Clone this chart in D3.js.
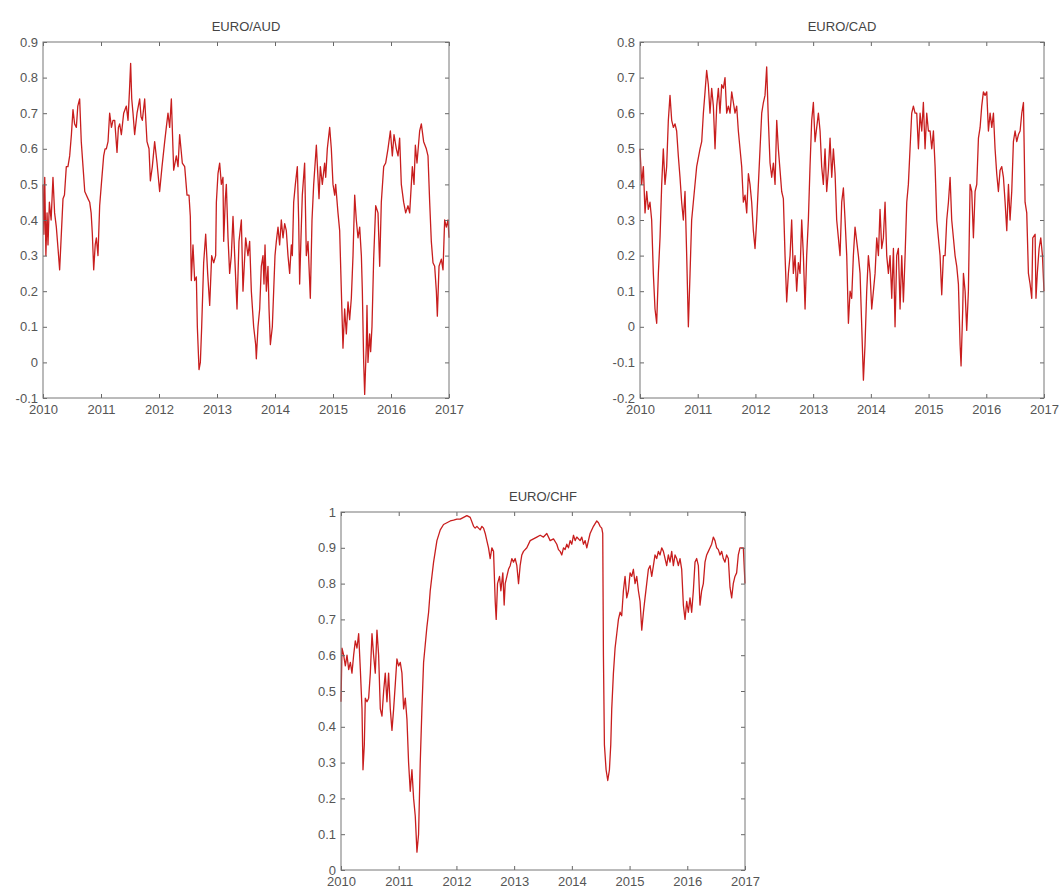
<!DOCTYPE html>
<html>
<head>
<meta charset="utf-8">
<script src="https://cdn.jsdelivr.net/npm/d3@7"></script>
<style>
  body { margin: 0; background: #fff; }
  svg text { font-family: "Liberation Sans", Arial, sans-serif; }
</style>
</head>
<body>
<svg id="chart" width="1059" height="890"></svg>
<script>
// x axis years shared by all panels
var yearTicks = [2010, 2011, 2012, 2013, 2014, 2015, 2016, 2017];

var audTicks = [-0.1, 0, 0.1, 0.2, 0.3, 0.4, 0.5, 0.6, 0.7, 0.8, 0.9];
var cadTicks = [-0.2, -0.1, 0, 0.1, 0.2, 0.3, 0.4, 0.5, 0.6, 0.7, 0.8];
var chfTicks = [0, 0.1, 0.2, 0.3, 0.4, 0.5, 0.6, 0.7, 0.8, 0.9, 1];

// [decimal year, correlation]
var audSeries = [
  [2010.000,0.50],[2010.015,0.36],[2010.030,0.52],[2010.050,0.30],[2010.070,0.42],[2010.086,0.33],
  [2010.110,0.45],[2010.140,0.40],[2010.172,0.52],[2010.200,0.42],[2010.230,0.38],[2010.259,0.32],
  [2010.287,0.26],[2010.310,0.34],[2010.345,0.46],[2010.370,0.47],[2010.402,0.55],[2010.430,0.55],
  [2010.460,0.58],[2010.490,0.64],[2010.517,0.71],[2010.545,0.67],[2010.575,0.66],[2010.600,0.72],
  [2010.632,0.74],[2010.660,0.62],[2010.690,0.55],[2010.720,0.48],[2010.747,0.47],[2010.775,0.46],
  [2010.805,0.45],[2010.830,0.42],[2010.851,0.36],[2010.874,0.26],[2010.900,0.33],[2010.920,0.35],
  [2010.948,0.30],[2010.977,0.44],[2011.006,0.50],[2011.046,0.58],[2011.070,0.60],[2011.092,0.60],
  [2011.121,0.62],[2011.149,0.70],[2011.180,0.66],[2011.207,0.68],[2011.236,0.68],[2011.276,0.59],
  [2011.300,0.66],[2011.322,0.67],[2011.351,0.64],[2011.391,0.70],[2011.437,0.72],[2011.466,0.68],
  [2011.490,0.76],[2011.511,0.84],[2011.530,0.74],[2011.552,0.70],[2011.580,0.64],[2011.621,0.70],
  [2011.667,0.74],[2011.690,0.69],[2011.713,0.68],[2011.753,0.74],[2011.793,0.62],[2011.828,0.60],
  [2011.851,0.51],[2011.885,0.55],[2011.925,0.62],[2011.966,0.56],[2012.011,0.48],[2012.052,0.55],
  [2012.098,0.62],[2012.126,0.66],[2012.155,0.70],[2012.184,0.66],[2012.213,0.74],[2012.253,0.54],
  [2012.299,0.58],[2012.328,0.55],[2012.356,0.64],[2012.402,0.56],[2012.443,0.55],[2012.483,0.47],
  [2012.517,0.47],[2012.540,0.41],[2012.557,0.23],[2012.586,0.33],[2012.615,0.23],[2012.644,0.24],
  [2012.661,0.10],[2012.690,-0.02],[2012.713,0.00],[2012.736,0.10],[2012.770,0.28],[2012.805,0.36],
  [2012.839,0.25],[2012.874,0.16],[2012.908,0.30],[2012.943,0.28],[2012.977,0.30],[2012.989,0.45],
  [2013.017,0.53],[2013.046,0.56],[2013.075,0.50],[2013.103,0.52],[2013.115,0.34],[2013.144,0.46],
  [2013.161,0.50],[2013.190,0.35],[2013.218,0.25],[2013.247,0.30],[2013.276,0.41],[2013.305,0.30],
  [2013.345,0.15],[2013.379,0.34],[2013.420,0.40],[2013.448,0.20],[2013.494,0.35],[2013.534,0.30],
  [2013.563,0.34],[2013.592,0.20],[2013.632,0.10],[2013.667,0.05],[2013.678,0.01],[2013.707,0.10],
  [2013.736,0.15],[2013.764,0.27],[2013.793,0.30],[2013.810,0.22],[2013.828,0.33],[2013.851,0.20],
  [2013.879,0.27],[2013.897,0.15],[2013.920,0.05],[2013.954,0.10],[2013.977,0.20],[2014.000,0.30],
  [2014.023,0.34],[2014.052,0.38],[2014.080,0.33],[2014.109,0.40],[2014.138,0.35],[2014.167,0.39],
  [2014.195,0.37],[2014.224,0.30],[2014.253,0.25],[2014.282,0.33],[2014.299,0.30],[2014.322,0.45],
  [2014.351,0.50],[2014.385,0.55],[2014.408,0.40],[2014.425,0.22],[2014.448,0.35],[2014.471,0.47],
  [2014.511,0.56],[2014.540,0.30],[2014.569,0.34],[2014.609,0.18],[2014.638,0.40],[2014.667,0.50],
  [2014.713,0.61],[2014.759,0.46],[2014.782,0.55],[2014.816,0.50],[2014.856,0.56],[2014.874,0.52],
  [2014.902,0.60],[2014.943,0.66],[2014.971,0.60],[2015.000,0.50],[2015.029,0.47],[2015.046,0.50],
  [2015.086,0.42],[2015.115,0.37],[2015.144,0.20],[2015.172,0.04],[2015.201,0.15],[2015.230,0.08],
  [2015.259,0.17],[2015.287,0.12],[2015.316,0.18],[2015.333,0.25],[2015.345,0.30],[2015.374,0.47],
  [2015.402,0.40],[2015.431,0.35],[2015.460,0.38],[2015.489,0.30],[2015.506,0.20],[2015.529,0.00],
  [2015.546,-0.09],[2015.575,0.05],[2015.586,0.16],[2015.603,0.00],[2015.632,0.08],[2015.649,0.03],
  [2015.672,0.10],[2015.701,0.29],[2015.736,0.44],[2015.776,0.42],[2015.805,0.27],[2015.833,0.45],
  [2015.874,0.55],[2015.908,0.56],[2015.948,0.60],[2015.989,0.65],[2016.023,0.58],[2016.052,0.64],
  [2016.092,0.60],[2016.121,0.58],[2016.149,0.63],[2016.178,0.50],[2016.218,0.45],[2016.253,0.42],
  [2016.293,0.44],[2016.322,0.42],[2016.368,0.55],[2016.397,0.50],[2016.420,0.61],[2016.448,0.56],
  [2016.494,0.65],[2016.523,0.67],[2016.563,0.62],[2016.609,0.60],[2016.638,0.58],[2016.667,0.45],
  [2016.695,0.34],[2016.724,0.28],[2016.753,0.27],[2016.782,0.20],[2016.799,0.13],[2016.828,0.27],
  [2016.868,0.29],[2016.897,0.26],[2016.925,0.40],[2016.954,0.38],[2016.983,0.40],[2017.000,0.35]
];

var cadSeries = [
  [2010.000,0.50],[2010.029,0.40],[2010.058,0.45],[2010.087,0.32],[2010.116,0.38],[2010.144,0.33],
  [2010.173,0.35],[2010.202,0.30],[2010.231,0.15],[2010.260,0.05],[2010.289,0.01],[2010.318,0.15],
  [2010.347,0.25],[2010.376,0.40],[2010.404,0.50],[2010.433,0.40],[2010.462,0.45],[2010.491,0.58],
  [2010.520,0.65],[2010.549,0.58],[2010.578,0.56],[2010.607,0.57],[2010.635,0.55],[2010.664,0.48],
  [2010.693,0.42],[2010.722,0.35],[2010.751,0.30],[2010.780,0.38],[2010.809,0.20],[2010.838,0.00],
  [2010.867,0.15],[2010.895,0.30],[2010.924,0.35],[2010.982,0.45],[2011.040,0.50],[2011.069,0.52],
  [2011.098,0.60],[2011.127,0.66],[2011.155,0.72],[2011.184,0.68],[2011.213,0.60],[2011.242,0.67],
  [2011.271,0.62],[2011.300,0.50],[2011.329,0.62],[2011.358,0.67],[2011.386,0.60],[2011.415,0.68],
  [2011.444,0.67],[2011.473,0.70],[2011.502,0.60],[2011.531,0.62],[2011.560,0.60],[2011.589,0.66],
  [2011.618,0.63],[2011.646,0.60],[2011.675,0.62],[2011.704,0.55],[2011.733,0.50],[2011.762,0.45],
  [2011.791,0.35],[2011.820,0.37],[2011.849,0.32],[2011.878,0.43],[2011.906,0.40],[2011.935,0.35],
  [2011.964,0.27],[2011.993,0.22],[2012.022,0.30],[2012.051,0.40],[2012.080,0.50],[2012.109,0.60],
  [2012.138,0.63],[2012.166,0.65],[2012.195,0.73],[2012.224,0.58],[2012.253,0.46],[2012.282,0.42],
  [2012.311,0.46],[2012.340,0.40],[2012.369,0.58],[2012.397,0.50],[2012.426,0.44],[2012.455,0.38],
  [2012.484,0.36],[2012.513,0.20],[2012.542,0.07],[2012.571,0.15],[2012.600,0.20],[2012.628,0.30],
  [2012.657,0.15],[2012.686,0.20],[2012.715,0.10],[2012.744,0.18],[2012.773,0.15],[2012.802,0.30],
  [2012.831,0.20],[2012.860,0.05],[2012.888,0.20],[2012.917,0.30],[2012.946,0.45],[2012.975,0.58],
  [2013.004,0.63],[2013.033,0.52],[2013.062,0.56],[2013.091,0.60],[2013.120,0.55],[2013.148,0.45],
  [2013.177,0.40],[2013.206,0.50],[2013.235,0.38],[2013.264,0.44],[2013.293,0.53],[2013.322,0.42],
  [2013.351,0.50],[2013.380,0.43],[2013.408,0.30],[2013.437,0.25],[2013.466,0.20],[2013.495,0.35],
  [2013.524,0.39],[2013.553,0.30],[2013.582,0.20],[2013.611,0.01],[2013.640,0.10],[2013.668,0.08],
  [2013.697,0.20],[2013.726,0.28],[2013.755,0.24],[2013.784,0.20],[2013.813,0.15],[2013.842,0.00],
  [2013.871,-0.15],[2013.899,-0.05],[2013.928,0.10],[2013.957,0.20],[2013.986,0.15],[2014.015,0.05],
  [2014.044,0.10],[2014.073,0.15],[2014.102,0.25],[2014.131,0.20],[2014.159,0.33],[2014.188,0.22],
  [2014.217,0.25],[2014.246,0.35],[2014.275,0.20],[2014.304,0.15],[2014.333,0.20],[2014.362,0.08],
  [2014.391,0.22],[2014.419,0.00],[2014.448,0.20],[2014.477,0.22],[2014.506,0.05],[2014.535,0.20],
  [2014.564,0.07],[2014.593,0.20],[2014.622,0.35],[2014.650,0.40],[2014.679,0.50],[2014.708,0.60],
  [2014.737,0.62],[2014.766,0.60],[2014.795,0.60],[2014.824,0.50],[2014.853,0.60],[2014.882,0.55],
  [2014.910,0.63],[2014.939,0.50],[2014.968,0.60],[2014.997,0.55],[2015.026,0.55],[2015.055,0.50],
  [2015.084,0.55],[2015.113,0.45],[2015.142,0.30],[2015.170,0.25],[2015.199,0.20],[2015.228,0.09],
  [2015.257,0.20],[2015.286,0.20],[2015.315,0.30],[2015.344,0.35],[2015.373,0.42],[2015.401,0.30],
  [2015.430,0.25],[2015.459,0.20],[2015.488,0.17],[2015.517,0.12],[2015.546,-0.05],[2015.563,-0.11],
  [2015.592,0.05],[2015.604,0.15],[2015.633,0.10],[2015.661,-0.01],[2015.690,0.10],[2015.719,0.40],
  [2015.748,0.38],[2015.777,0.25],[2015.806,0.38],[2015.835,0.40],[2015.864,0.53],[2015.893,0.56],
  [2015.921,0.62],[2015.950,0.66],[2015.979,0.65],[2016.008,0.66],[2016.037,0.55],[2016.066,0.60],
  [2016.095,0.56],[2016.124,0.60],[2016.152,0.50],[2016.181,0.43],[2016.210,0.38],[2016.239,0.44],
  [2016.268,0.45],[2016.297,0.42],[2016.326,0.35],[2016.355,0.27],[2016.384,0.40],[2016.412,0.30],
  [2016.441,0.38],[2016.470,0.52],[2016.499,0.55],[2016.528,0.52],[2016.557,0.54],[2016.586,0.55],
  [2016.615,0.60],[2016.644,0.63],[2016.672,0.35],[2016.701,0.32],[2016.730,0.15],[2016.759,0.12],
  [2016.788,0.08],[2016.805,0.25],[2016.846,0.26],[2016.861,0.08],[2016.884,0.15],[2016.915,0.22],
  [2016.944,0.25],[2016.973,0.20],[2017.000,0.10]
];

var chfSeries = [
  [2010.000,0.47],[2010.017,0.62],[2010.046,0.60],[2010.075,0.57],[2010.104,0.60],[2010.133,0.56],
  [2010.162,0.58],[2010.190,0.55],[2010.219,0.60],[2010.248,0.64],[2010.277,0.62],[2010.306,0.66],
  [2010.335,0.56],[2010.364,0.45],[2010.381,0.28],[2010.404,0.35],[2010.421,0.48],[2010.450,0.47],
  [2010.479,0.48],[2010.508,0.55],[2010.537,0.66],[2010.565,0.60],[2010.594,0.55],[2010.623,0.67],
  [2010.652,0.60],[2010.681,0.45],[2010.710,0.43],[2010.739,0.50],[2010.767,0.55],[2010.796,0.47],
  [2010.825,0.55],[2010.854,0.45],[2010.883,0.39],[2010.912,0.45],[2010.941,0.52],[2010.969,0.59],
  [2010.998,0.57],[2011.027,0.58],[2011.056,0.55],[2011.085,0.45],[2011.114,0.48],[2011.143,0.42],
  [2011.171,0.30],[2011.200,0.22],[2011.229,0.28],[2011.258,0.20],[2011.287,0.15],[2011.316,0.05],
  [2011.344,0.10],[2011.373,0.30],[2011.402,0.45],[2011.431,0.58],[2011.460,0.63],[2011.489,0.68],
  [2011.518,0.72],[2011.546,0.78],[2011.575,0.82],[2011.604,0.86],[2011.633,0.89],[2011.662,0.92],
  [2011.720,0.95],[2011.777,0.965],[2011.835,0.97],[2011.893,0.975],[2011.950,0.977],[2012.008,0.98],
  [2012.066,0.98],[2012.124,0.985],[2012.181,0.99],[2012.239,0.985],[2012.297,0.96],[2012.325,0.955],
  [2012.354,0.96],[2012.412,0.95],[2012.441,0.96],[2012.470,0.955],[2012.499,0.94],[2012.527,0.92],
  [2012.556,0.90],[2012.585,0.87],[2012.614,0.90],[2012.643,0.89],[2012.672,0.75],[2012.689,0.70],
  [2012.712,0.80],[2012.747,0.82],[2012.770,0.78],[2012.804,0.83],[2012.827,0.74],[2012.845,0.80],
  [2012.874,0.82],[2012.902,0.84],[2012.931,0.85],[2012.960,0.87],[2012.989,0.86],[2013.018,0.87],
  [2013.047,0.85],[2013.076,0.80],[2013.104,0.85],[2013.133,0.88],[2013.162,0.89],[2013.220,0.90],
  [2013.278,0.92],[2013.335,0.925],[2013.393,0.93],[2013.451,0.935],[2013.508,0.93],[2013.566,0.94],
  [2013.624,0.92],[2013.682,0.925],[2013.739,0.91],[2013.768,0.895],[2013.797,0.89],[2013.826,0.88],
  [2013.855,0.90],[2013.883,0.895],[2013.912,0.91],[2013.941,0.90],[2013.970,0.92],[2013.999,0.91],
  [2014.028,0.935],[2014.057,0.92],[2014.085,0.93],[2014.143,0.92],[2014.172,0.93],[2014.201,0.91],
  [2014.230,0.92],[2014.259,0.90],[2014.287,0.92],[2014.316,0.94],[2014.374,0.96],[2014.432,0.975],
  [2014.461,0.97],[2014.489,0.96],[2014.518,0.955],[2014.535,0.94],[2014.547,0.60],[2014.564,0.35],
  [2014.593,0.28],[2014.622,0.25],[2014.651,0.28],[2014.674,0.35],[2014.691,0.45],[2014.720,0.55],
  [2014.749,0.62],[2014.778,0.66],[2014.807,0.70],[2014.836,0.72],[2014.864,0.71],[2014.893,0.78],
  [2014.922,0.82],[2014.951,0.76],[2014.980,0.78],[2015.009,0.83],[2015.038,0.82],[2015.066,0.84],
  [2015.095,0.80],[2015.124,0.82],[2015.153,0.78],[2015.182,0.75],[2015.211,0.67],[2015.240,0.72],
  [2015.268,0.76],[2015.297,0.80],[2015.326,0.84],[2015.355,0.85],[2015.384,0.82],[2015.413,0.85],
  [2015.441,0.88],[2015.470,0.87],[2015.499,0.89],[2015.528,0.88],[2015.557,0.90],[2015.586,0.89],
  [2015.615,0.87],[2015.643,0.85],[2015.672,0.88],[2015.701,0.86],[2015.730,0.89],[2015.759,0.85],
  [2015.788,0.88],[2015.816,0.87],[2015.845,0.85],[2015.874,0.87],[2015.903,0.84],[2015.932,0.74],
  [2015.961,0.70],[2015.990,0.75],[2016.018,0.72],[2016.047,0.76],[2016.076,0.72],[2016.105,0.78],
  [2016.134,0.86],[2016.163,0.87],[2016.192,0.85],[2016.220,0.74],[2016.249,0.78],[2016.278,0.80],
  [2016.307,0.86],[2016.336,0.88],[2016.365,0.89],[2016.394,0.90],[2016.422,0.91],[2016.451,0.93],
  [2016.480,0.92],[2016.509,0.90],[2016.538,0.895],[2016.567,0.88],[2016.596,0.89],[2016.624,0.87],
  [2016.653,0.86],[2016.682,0.88],[2016.711,0.87],[2016.740,0.79],[2016.769,0.76],[2016.797,0.80],
  [2016.826,0.82],[2016.855,0.83],[2016.884,0.88],[2016.913,0.90],[2016.942,0.90],[2016.971,0.90],
  [2017.000,0.80]
];

var panels = [
  {title: "EURO/AUD", series: audSeries, ticks: audTicks, left: 43,  top: 42,  width: 406, height: 356},
  {title: "EURO/CAD", series: cadSeries, ticks: cadTicks, left: 640, top: 42,  width: 404, height: 356},
  {title: "EURO/CHF", series: chfSeries, ticks: chfTicks, left: 341, top: 512, width: 404, height: 358}
];

var svg = d3.select("#chart");
var fmt = function(v) { return String(+v.toFixed(1)); };

function drawPanel(p) {
  var g = svg.append("g")
      .attr("transform", "translate(" + p.left + "," + p.top + ")");

  var x = d3.scaleLinear().domain([2010, 2017]).range([0, p.width]);
  var y = d3.scaleLinear()
      .domain([p.ticks[0], p.ticks[p.ticks.length - 1]])
      .range([p.height, 0]);

  // line first so the box sits on top of it
  var line = d3.line()
      .x(function(d) { return x(d[0]); })
      .y(function(d) { return y(d[1]); });

  g.append("path")
      .datum(p.series)
      .attr("fill", "none")
      .attr("stroke", "#c81e1e")
      .attr("stroke-width", 1.3)
      .attr("stroke-linejoin", "round")
      .attr("d", line);

  // ticks point inward on all four sides, labels only bottom and left
  var bottom = g.append("g").attr("transform", "translate(0," + p.height + ")")
      .call(d3.axisBottom(x).tickValues(yearTicks).tickSizeInner(-4).tickSizeOuter(0)
            .tickPadding(7).tickFormat(d3.format("d")));
  var left = g.append("g")
      .call(d3.axisLeft(y).tickValues(p.ticks).tickSizeInner(-4).tickSizeOuter(0)
            .tickPadding(5).tickFormat(fmt));
  var top = g.append("g")
      .call(d3.axisTop(x).tickValues(yearTicks).tickSizeInner(-4).tickSizeOuter(0).tickFormat(""));
  var right = g.append("g").attr("transform", "translate(" + p.width + ",0)")
      .call(d3.axisRight(y).tickValues(p.ticks).tickSizeInner(-4).tickSizeOuter(0).tickFormat(""));

  [bottom, left, top, right].forEach(function(a) {
    a.select(".domain").remove();
    a.selectAll(".tick line").attr("stroke", "#666");
    a.selectAll(".tick text").attr("fill", "#555").style("font-size", "13px");
  });

  g.append("rect")
      .attr("width", p.width)
      .attr("height", p.height)
      .attr("fill", "none")
      .attr("stroke", "#777")
      .attr("stroke-width", 1);

  g.append("text")
      .attr("x", p.width / 2)
      .attr("y", -11)
      .attr("text-anchor", "middle")
      .attr("fill", "#444")
      .style("font-size", "13px")
      .text(p.title);
}

panels.forEach(drawPanel);
</script>
</body>
</html>
